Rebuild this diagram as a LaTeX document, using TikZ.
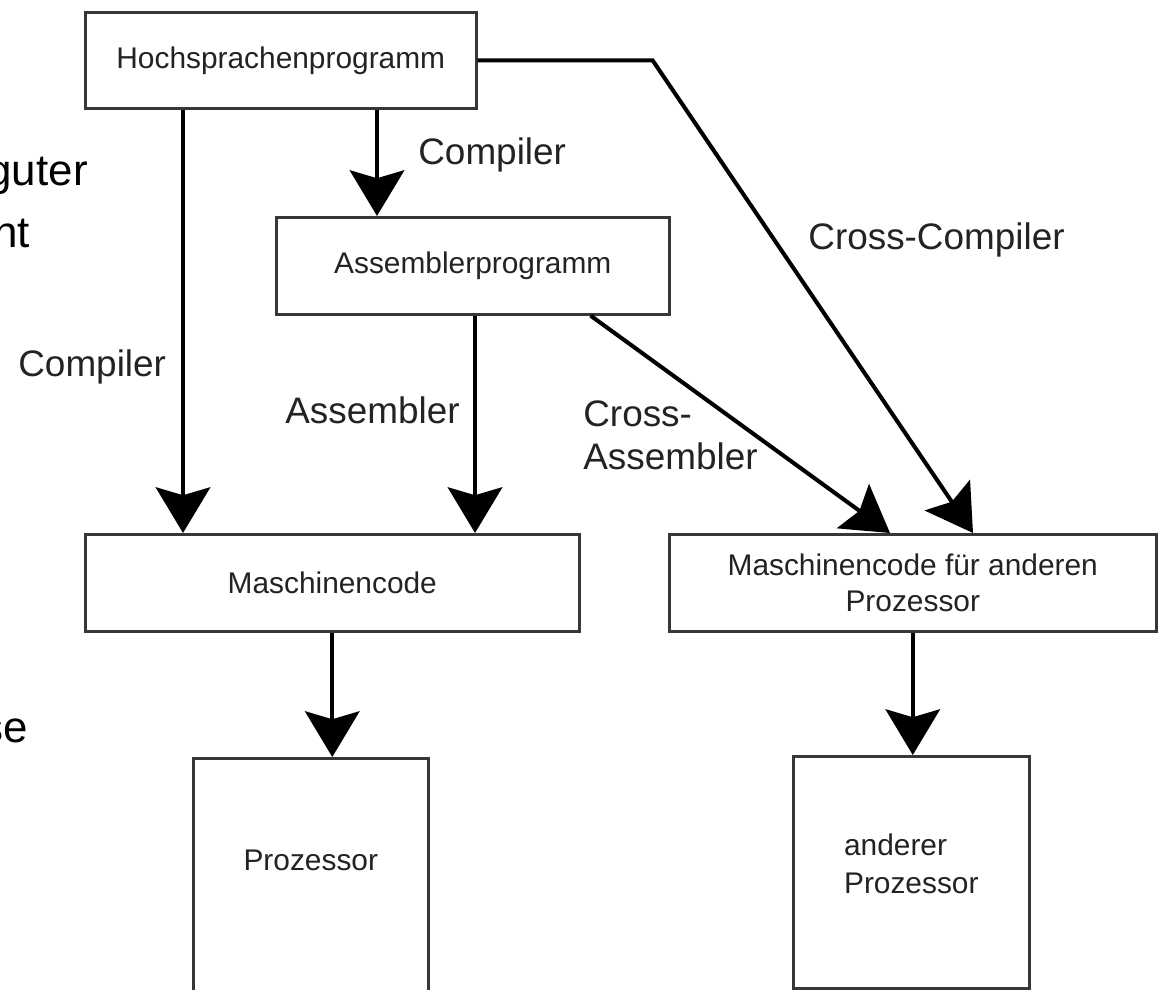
\documentclass[tikz,border=0pt]{standalone}
\usepackage{fontspec}
\setmainfont{Liberation Sans}
\usetikzlibrary{arrows.meta,positioning,calc}
\definecolor{boxgray}{RGB}{55,55,55}
\definecolor{txtgray}{RGB}{35,35,35}
\tikzset{
  blk/.style={draw=boxgray,line width=1.5pt,fill=white,inner sep=0pt,
              anchor=north west,font=\fontsize{17pt}{20pt}\selectfont,
              text=txtgray},
  blktxt/.style={inner sep=0pt,font=\fontsize{17pt}{21.5pt}\selectfont,
                 text=txtgray},
  arr/.style={-{Stealth[length=26pt,width=31pt,inset=4.5pt]},line width=2.3pt},
  lbl/.style={anchor=west,inner sep=0pt,
              font=\fontsize{21pt}{24.5pt}\selectfont,text=txtgray},
  frag/.style={anchor=base east,inner sep=0pt,
               font=\fontsize{25pt}{30pt}\selectfont},
}

\begin{document}
\begin{tikzpicture}[x=0.02cm,y=-0.02cm]
  \useasboundingbox (0,0) rectangle (1159,990);

  % cut-off slide text on the left
  \node[frag] (FRAGA) at (88,185) {guter};
  \node[frag] (FRAGB) at (30,247) {nt};
  \node[frag] (FRAGC) at (28,742) {se};

  % boxes
  \node[blk,minimum width=7.82cm,minimum height=1.92cm] (HOCH) at (84,11)  {Hochsprachenprogramm};
  \node[blk,minimum width=7.86cm,minimum height=1.94cm] (ASM)  at (275,216) {Assemblerprogramm};
  \node[blk,minimum width=9.88cm,minimum height=1.94cm] (MC)   at (84,533) {Maschinencode};
  \node[blk,minimum width=9.74cm,minimum height=1.94cm,align=center] (MCX) at (668,533)
       {Maschinencode für anderen\\Prozessor};
  \node[blk,minimum width=4.70cm,minimum height=4.80cm] (CPU)  at (192,757) {};
  \node[blk,minimum width=4.72cm,minimum height=4.64cm] (CPUX) at (792,755) {};
  \node[blktxt] (CPUT) at ($(CPU.north)+(0,103)$) {Prozessor};
  \node[blktxt,align=left] (CPUXT) at ($(CPUX.north)+(0,109)$) {anderer\\Prozessor};

  % labels
  \node[lbl] (LCOMP)  at (418,155) {Compiler};
  \node[lbl] (LCROSS) at (808,240) {Cross-Compiler};
  \node[lbl] (LCOMPL) at (18,367)  {Compiler};
  \node[lbl] (LASM)   at (285,410) {Assembler};
  \node[lbl,anchor=north west,align=left] (LCASM) at (583,400) {Cross-\\Assembler};

  % arrows
  \draw[arr] ($(HOCH.south west)+(99,0)$) -- ($(MC.north west)+(99,0)$);
  \draw[arr] ($(HOCH.south west)+(293,0)$) -- ($(ASM.north west)+(102,0)$);
  \draw[arr] ($(ASM.south west)+(200,0)$) -- ($(MC.north west)+(391,0)$);
  \draw[arr] ($(ASM.south east)+(-80,0)$) -- ($(MCX.north west)+(222,0)$);
  \draw[arr] (HOCH.east) -- ++(175,0) -- ($(MCX.north west)+(305,0)$);
  \draw[arr] (MC.south) -- (MC.south |- CPU.north);
  \draw[arr] (MCX.south) -- (MCX.south |- CPUX.north);
\end{tikzpicture}
\end{document}
